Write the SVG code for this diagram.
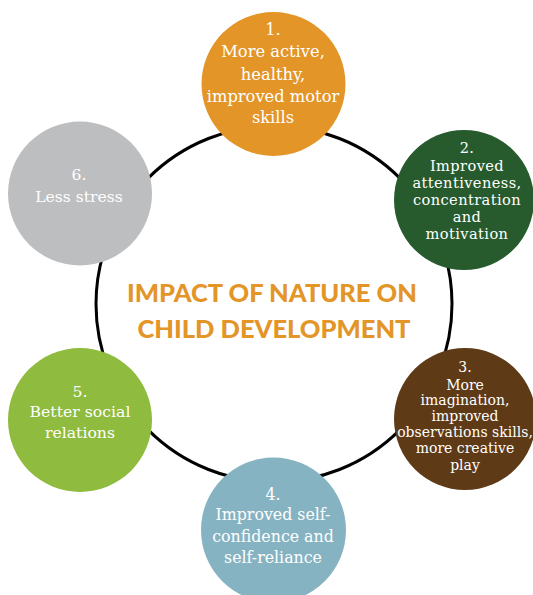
<svg xmlns="http://www.w3.org/2000/svg" width="533" height="595" viewBox="0 0 533 595">
<style>
.bub{stroke:none}
.t{font-family:"DejaVu Serif","Liberation Serif",serif;fill:#FFFFFF;text-anchor:middle}
.title{font-family:Lato,"Open Sans","Liberation Sans",sans-serif;font-weight:900;font-size:25.5px;fill:#E39527;text-anchor:middle}
.ring{fill:none;stroke:#000;stroke-width:3}
</style>
<rect width="533" height="595" fill="#FFFFFF"/>
<g id="connectors">
<circle class="ring" cx="274" cy="304" r="178"/>
</g>
<g id="title">
<text class="title" x="272" y="302">IMPACT OF NATURE ON</text>
<text class="title" x="274" y="338">CHILD DEVELOPMENT</text>
</g>
<g id="node1">
<circle class="bub" cx="273.5" cy="84" r="72" fill="#E39527"/>
<text class="t" font-size="16.3" x="273" y="35">1.<tspan x="273" y="57">More active,</tspan><tspan x="273" y="80">healthy,</tspan><tspan x="273" y="102">improved motor</tspan><tspan x="273" y="123">skills</tspan></text>
</g>
<g id="node2">
<circle class="bub" cx="464" cy="200" r="70" fill="#275B2D"/>
<text class="t" font-size="14.6" letter-spacing="0.4" x="467" y="153">2.<tspan x="467" y="170.5">Improved</tspan><tspan x="467" y="188">attentiveness,</tspan><tspan x="467" y="205">concentration</tspan><tspan x="467" y="221.5">and</tspan><tspan x="467" y="238.5">motivation</tspan></text>
</g>
<g id="node3">
<circle class="bub" cx="465" cy="419" r="71" fill="#5E3A16"/>
<text class="t" font-size="14" x="465" y="372">3.<tspan x="465" y="390">More</tspan><tspan x="465" y="405">imagination,</tspan><tspan x="465" y="421">improved</tspan><tspan x="465" y="437">observations skills,</tspan><tspan x="465" y="453">more creative</tspan><tspan x="465" y="470">play</tspan></text>
</g>
<g id="node4">
<circle class="bub" cx="273.5" cy="530" r="72.5" fill="#86B3C2"/>
<text class="t" font-size="15.8" x="273" y="500">4.<tspan x="273" y="520">Improved self-</tspan><tspan x="273" y="542">confidence and</tspan><tspan x="273" y="563">self-reliance</tspan></text>
</g>
<g id="node5">
<circle class="bub" cx="80" cy="420" r="72" fill="#8FBB3E"/>
<text class="t" font-size="15.7" x="80" y="397">5.<tspan x="80" y="417">Better social</tspan><tspan x="80" y="438">relations</tspan></text>
</g>
<g id="node6">
<circle class="bub" cx="80" cy="193.5" r="72" fill="#BDBEC0"/>
<text class="t" font-size="15.6" x="79" y="180">6.<tspan x="79" y="202">Less stress</tspan></text>
</g>
</svg>
